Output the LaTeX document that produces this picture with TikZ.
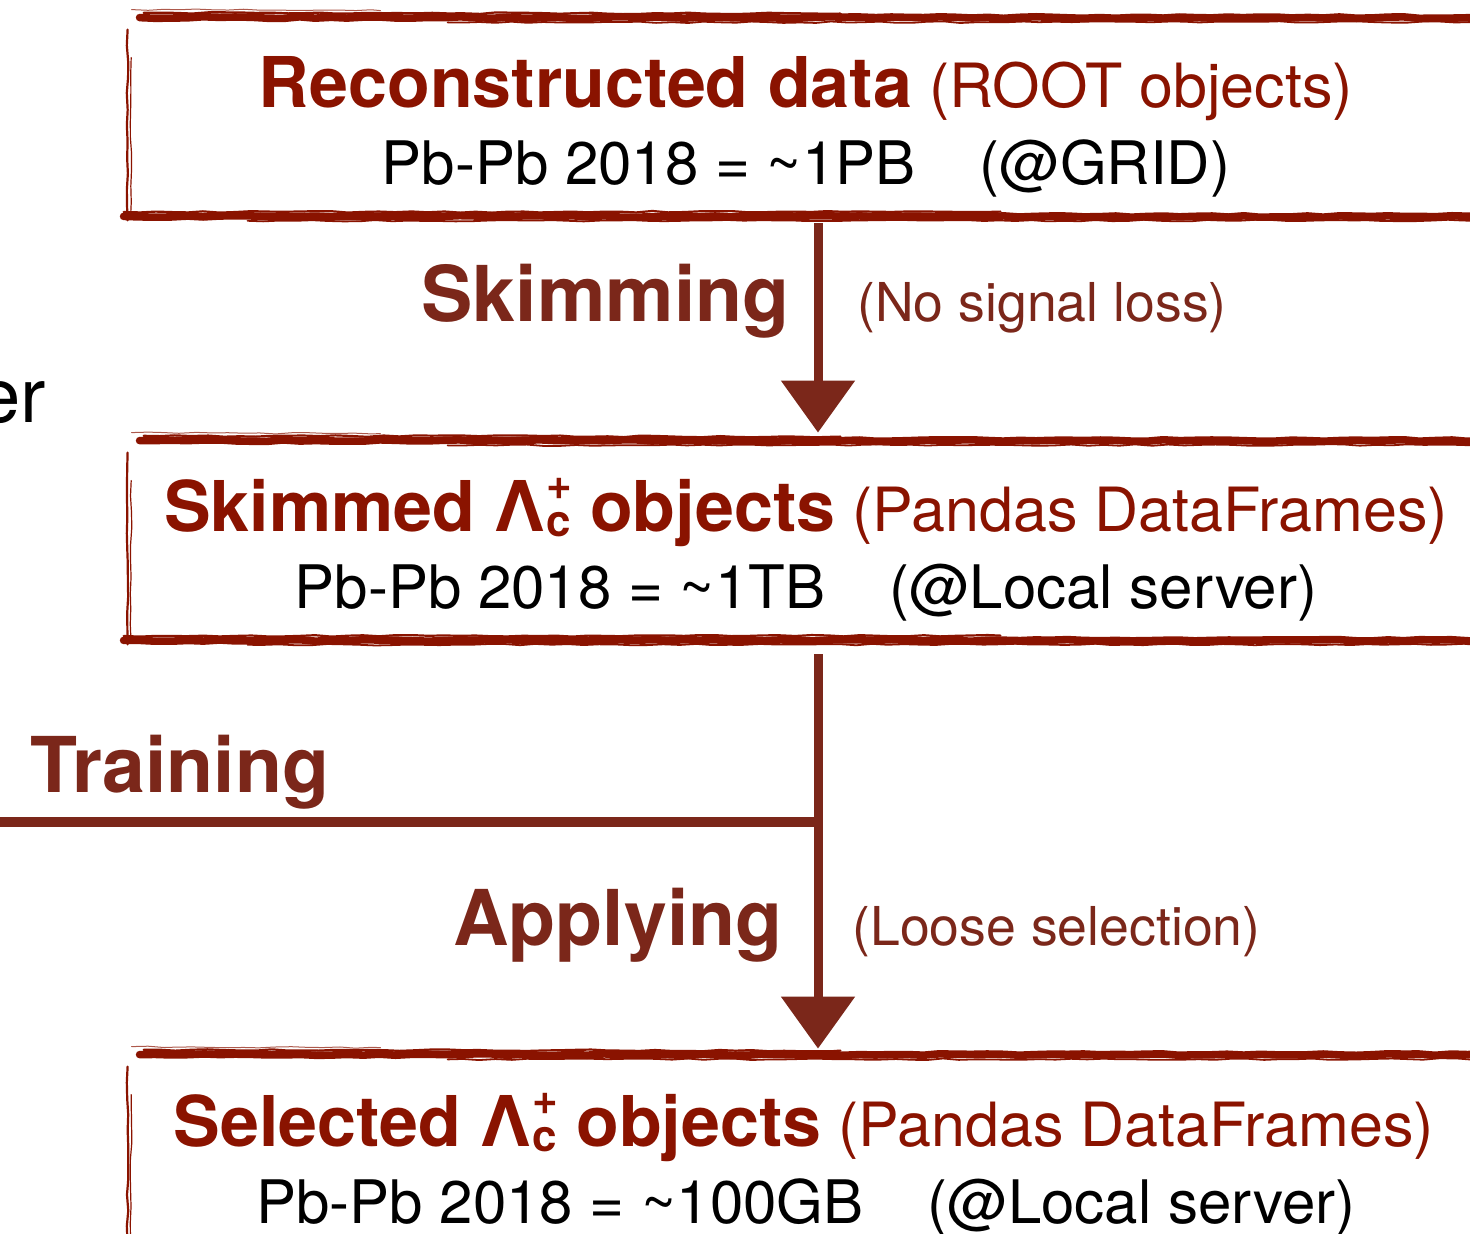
\documentclass[tikz,border=0pt]{standalone}
\usepackage{fontspec}
\setmainfont{TeX Gyre Heros}
\usetikzlibrary{arrows.meta,decorations.pathmorphing}
\definecolor{boxred}{HTML}{8A1300}
\definecolor{lblbrown}{HTML}{7B271A}
\newcommand\lamc{Λ\kern0.5pt\rlap{\raisebox{16pt}{\fontsize{22}{22}\selectfont +}}\raisebox{-2.5pt}{\fontsize{22}{22}\selectfont c}}
\newcommand\bigb[1]{{\fontsize{35}{40}\selectfont\bfseries #1}}
\newcommand\roughbox[1]{%
  \draw[edge, line width=3.8pt] ([xshift=6pt]#1.north west) -- ([xshift=20pt]#1.north east);
  \draw[edge, line width=1.1pt] ([xshift=8pt,yshift=2.4pt]#1.north west) -- ([xshift=-330pt,yshift=2.0pt]#1.north east);
  \draw[edge, line width=0.9pt] ([xshift=160pt,yshift=-2.4pt]#1.north west) -- ([xshift=20pt,yshift=-2.2pt]#1.north east);
  \draw[edge, line width=0.5pt, draw opacity=0.7] ([xshift=2pt,yshift=4pt]#1.north west) -- ([xshift=-560pt,yshift=3.5pt]#1.north east);
  \draw[edge, line width=1.1pt] ([yshift=-6pt]#1.north west) -- ([yshift=-2pt]#1.south west);
  \draw[edge, line width=0.6pt] ([xshift=1.8pt,yshift=-20pt]#1.north west) -- ([xshift=1.6pt,yshift=2pt]#1.south west);
  \draw[edge, line width=3.8pt] ([xshift=-2pt]#1.south west) -- ([xshift=20pt]#1.south east);
  \draw[edge, line width=1.1pt] ([xshift=-2pt,yshift=2.2pt]#1.south west) -- ([xshift=-250pt,yshift=2.4pt]#1.south east);
  \draw[edge, line width=0.9pt] ([xshift=60pt,yshift=-2.2pt]#1.south west) -- ([xshift=20pt,yshift=-2.0pt]#1.south east);
}
\begin{document}
\begin{tikzpicture}[x=0.5pt,y=-0.5pt,
  edge/.style={draw=boxred, line cap=round, decorate,
    decoration={random steps,segment length=8pt,amplitude=0.4pt}},
  boxarea/.style={draw=none, inner sep=0pt, minimum width=686pt},
  title/.style={anchor=base, inner sep=0pt, text=boxred, font=\fontsize{30.5}{36}\selectfont},
  sub/.style={anchor=base, inner sep=0pt, text=black, font=\fontsize{30}{36}\selectfont},
  steplbl/.style={inner sep=0pt, text=lblbrown, font=\fontsize{38.5}{46}\selectfont\bfseries},
  note/.style={inner sep=0pt, text=lblbrown, font=\fontsize{26.8}{32}\selectfont},
  flow/.style={draw=lblbrown, line width=4.5pt, -{Triangle[length=26pt,width=36pt]}},
  trainline/.style={draw=lblbrown, line width=5pt}]
\useasboundingbox (0,0) rectangle (1470,1234);
\clip (0,0) rectangle (1470,1234);

% box areas
\node[boxarea, minimum height=99pt] (b1) at (814,117) {};
\node[boxarea, minimum height=99.5pt] (b2) at (814,540.5) {};
\node[boxarea, minimum height=110pt] (b3) at (814,1165) {};
\roughbox{b1}
\roughbox{b2}
\roughbox{b3}

% box texts
\node[title] (t1) at (806,108) {\bigb{Reconstructed data} (ROOT objects)};
\node[sub] (s1) at (806,185) {Pb-Pb 2018 = \textasciitilde1PB\hspace{32pt}(@GRID)};
\node[title] (t2) at (806,531) {\bigb{Skimmed \lamc\ objects} (Pandas DataFrames)};
\node[sub] (s2) at (806,608) {Pb-Pb 2018 = \textasciitilde1TB\hspace{32pt}(@Local server)};
\node[title] (t3) at (804,1146) {\bigb{Selected \lamc\ objects} (Pandas DataFrames)};
\node[sub] (s3) at (806,1223) {Pb-Pb 2018 = \textasciitilde100GB\hspace{32pt}(@Local server)};

% cut-off text at left
\node[anchor=base east, inner sep=0pt, font=\fontsize{38}{44}\selectfont] (er) at (46,423) {er};

% flow
\coordinate (ax) at (818,0);
\draw[flow] ([yshift=-3.5pt]b1.south -| ax) -- ([yshift=4pt]b2.north -| ax);
\draw[flow] ([yshift=-7pt]b2.south -| ax) -- ([yshift=3pt]b3.north -| ax);

\node[steplbl, anchor=base east] (skim) at (790,322) {Skimming};
\node[note, anchor=base west] (skimnote) at (857,322) {(No signal loss)};

\node[steplbl, anchor=base west] (train) at (30,792) {Training};
\coordinate (tl) at (0,822);
\draw[trainline] (tl) -- (tl -| ax);

\node[steplbl, anchor=base east] (apply) at (783,945) {Applying};
\node[note, anchor=base west] (applynote) at (852,945) {(Loose selection)};
\end{tikzpicture}
\end{document}
